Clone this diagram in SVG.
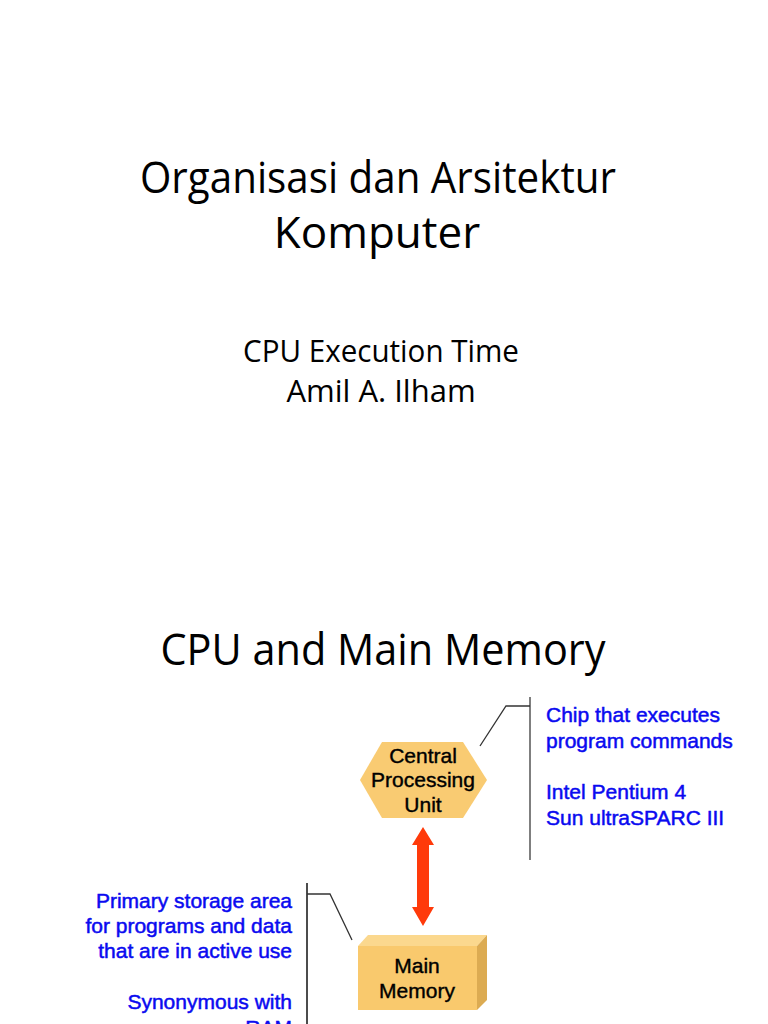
<svg xmlns="http://www.w3.org/2000/svg" width="768" height="1024" viewBox="0 0 768 1024">
<style>
.title{font-family:"Open Sans","Noto Sans",sans-serif;fill:#000;text-anchor:middle}
.blue{font-family:"Liberation Sans",Arial,sans-serif;font-size:21px;fill:#0a0af0;stroke:#0a0af0;stroke-width:0.5}
.lbl{font-family:"Liberation Sans",Arial,sans-serif;font-size:21px;fill:#000;stroke:#000;stroke-width:0.4;text-anchor:middle}
.ln{fill:none;stroke:#333;stroke-width:1.3}
</style>
<rect width="768" height="1024" fill="#fff"/>
<g id="title">
<text class="title" x="378" y="193" font-size="44" textLength="476" lengthAdjust="spacingAndGlyphs">Organisasi dan Arsitektur</text>
<text class="title" x="377" y="248" font-size="44">Komputer</text>
<text class="title" x="381" y="362" font-size="31" textLength="276" lengthAdjust="spacingAndGlyphs">CPU Execution Time</text>
<text class="title" x="381" y="402" font-size="31">Amil A. Ilham</text>
<text class="title" x="383" y="665" font-size="44" textLength="445" lengthAdjust="spacingAndGlyphs">CPU and Main Memory</text>
</g>
<g id="cpu">
<polygon points="360,780 382,742 463,742 487,780 463,818 382,818" fill="#f9cb72"/>
<text class="lbl" x="423" y="763">Central</text>
<text class="lbl" x="423" y="787">Processing</text>
<text class="lbl" x="423" y="812">Unit</text>
</g>
<g id="memory">
<polygon points="358,946 368,935 487,935 477,946" fill="#fbd88e"/>
<polygon points="477,946 487,935 487,1000 477,1010" fill="#dcab52"/>
<rect x="358" y="946" width="119" height="64" fill="#f9c96d"/>
<text class="lbl" x="417" y="973">Main</text>
<text class="lbl" x="417" y="998">Memory</text>
</g>
<g id="cpu-note">
<text class="blue" x="546" y="722">Chip that executes</text>
<text class="blue" x="546" y="748">program commands</text>
<text class="blue" x="546" y="799">Intel Pentium 4</text>
<text class="blue" x="546" y="825">Sun ultraSPARC III</text>
</g>
<g id="memory-note">
<text class="blue" x="292" y="908" text-anchor="end">Primary storage area</text>
<text class="blue" x="292" y="933" text-anchor="end">for programs and data</text>
<text class="blue" x="292" y="958" text-anchor="end">that are in active use</text>
<text class="blue" x="292" y="1009" text-anchor="end">Synonymous with</text>
<text class="blue" x="292" y="1035" text-anchor="end">RAM</text>
</g>
<g id="connectors">
<line x1="530" y1="697" x2="530" y2="860" stroke="#555" stroke-width="1.5"/>
<polyline class="ln" points="480,746 506,706 530,706"/>
<line x1="307" y1="883" x2="307" y2="1024" stroke="#111" stroke-width="1.5"/>
<polyline class="ln" points="307,894 330,894 352,940"/>
<polygon points="423,827 434,845 429,845 429,907 434,907 423,926 412,907 417,907 417,845 412,845" fill="#ff3a0a"/>
</g>
</svg>
